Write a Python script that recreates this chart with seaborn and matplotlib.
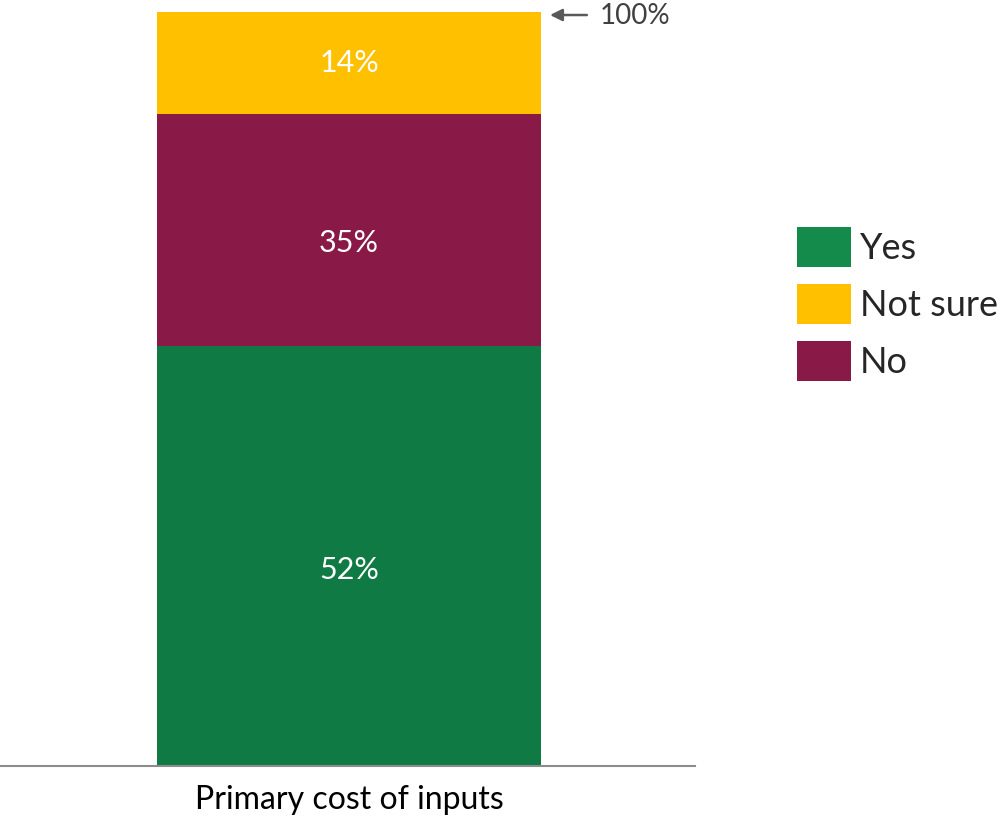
import numpy as np
import pandas as pd
import matplotlib.pyplot as plt
from matplotlib.patches import Patch
import seaborn as sns

# data (segment heights) and the printed labels
category = ['Primary cost of inputs']
answers = ['Yes', 'No', 'Not sure']          # stacking order, bottom to top
shares = [55.7, 30.8, 13.5]
share_labels = ['52%', '35%', '14%']
colors = {'Yes': '#0F7A44', 'No': '#891A47', 'Not sure': '#FFC000'}
legend_colors = {'Yes': '#148B4A', 'Not sure': '#FFC000', 'No': '#891A47'}
legend_order = ['Yes', 'Not sure', 'No']

sns.set_style('white')
plt.rcParams['font.family'] = ['Lato', 'DejaVu Sans']

fig = plt.figure(figsize=(10.05, 8.16), dpi=100)
ax = fig.add_axes([0.0, 50 / 816, 695 / 1005, (766 - 12) / 816])

bar_w = 384 / 695
bottom = 0.0
for ans, val, lab in zip(answers, shares, share_labels):
    df = pd.DataFrame({'cat': category, 'val': [val]})
    sns.barplot(data=df, x='cat', y='val', color=colors[ans], width=bar_w,
                bottom=bottom, saturation=1, ax=ax, linewidth=0)
    # labels sit a little below the segment middle in the original
    ax.text(0, bottom + val / 2 - 1.8 * (val > 20), lab, ha='center', va='center',
            color='white', fontsize=22)
    bottom += val

ax.set_xlim(-349 / 695, 1 - 349 / 695)
ax.set_ylim(0, 100)
ax.set_yticks([])
ax.set_xlabel('')
ax.set_ylabel('')
ax.tick_params(axis='x', length=0, pad=14, labelsize=23, labelcolor='black')
for s in ['top', 'left', 'right']:
    ax.spines[s].set_visible(False)
ax.spines['bottom'].set_color('#8C8C8C')
ax.spines['bottom'].set_linewidth(1.5)

# arrow pointing to the 100% top
x_right = bar_w / 2
ax.annotate('', xy=(x_right + 0.009, 99.6), xytext=(x_right + 0.07, 99.6),
            arrowprops=dict(arrowstyle='-|>', color='#595959', lw=1.8,
                            mutation_scale=18),
            annotation_clip=False)
ax.text(x_right + 0.085, 99.5, '100%', va='center', ha='left',
        fontsize=20, color='#404040', clip_on=False)

handles = [Patch(facecolor=legend_colors[a], edgecolor='none') for a in legend_order]
fig.legend(handles, legend_order, loc='center left',
           bbox_to_anchor=(797 / 1005, (816 - 304) / 816),
           frameon=False, fontsize=26, handlelength=1.5, handleheight=1.35,
           handletextpad=0.25, labelspacing=0.45, borderpad=0, borderaxespad=0)

fig.savefig('out.png', dpi=100)
